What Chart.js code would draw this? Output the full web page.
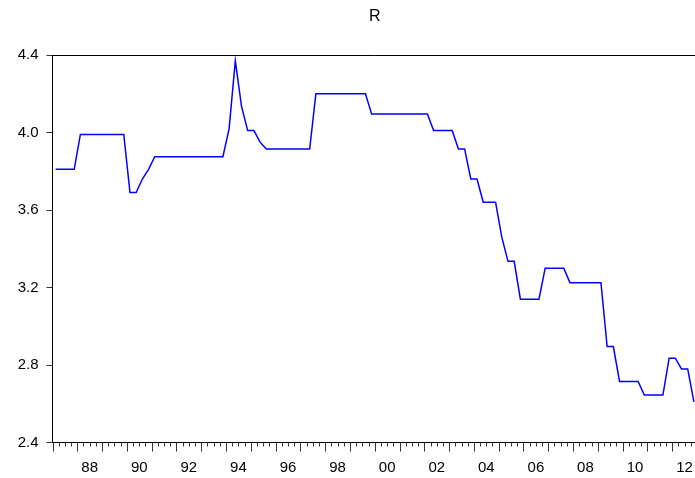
<!DOCTYPE html>
<html>
<head>
<meta charset="utf-8">
<script src="https://cdn.jsdelivr.net/npm/chart.js@4"></script>
<style>
  html, body { margin: 0; padding: 0; background: #fff; overflow: hidden; }
  #wrap { width: 700px; height: 478px; }
</style>
</head>
<body>
<div id="wrap"><canvas id="chart" width="700" height="478"></canvas></div>
<script>
// Quarterly series R, 1987Q1 - 2012Q4
const startYear = 1987;
const endYear = 2013;
const rValues = [
    3.81, 3.81, 3.81, 3.81,   // 1987
    3.99, 3.99, 3.99, 3.99,   // 1988
    3.99, 3.99, 3.99, 3.99,   // 1989
    3.69, 3.69, 3.76, 3.81,   // 1990
    3.875, 3.875, 3.875, 3.875, // 1991
    3.875, 3.875, 3.875, 3.875, // 1992
    3.875, 3.875, 3.875, 3.875, // 1993
    4.02, 4.37, 4.135, 4.01,  // 1994
    4.01, 3.95, 3.915, 3.915, // 1995
    3.915, 3.915, 3.915, 3.915, // 1996
    3.915, 3.915, 4.20, 4.20, // 1997
    4.20, 4.20, 4.20, 4.20,   // 1998
    4.20, 4.20, 4.20, 4.095,  // 1999
    4.095, 4.095, 4.095, 4.095, // 2000
    4.095, 4.095, 4.095, 4.095, // 2001
    4.095, 4.01, 4.01, 4.01,  // 2002
    4.01, 3.915, 3.915, 3.76, // 2003
    3.76, 3.64, 3.64, 3.64,   // 2004
    3.46, 3.335, 3.335, 3.14, // 2005
    3.14, 3.14, 3.14, 3.30,   // 2006
    3.30, 3.30, 3.30, 3.225,  // 2007
    3.225, 3.225, 3.225, 3.225, // 2008
    3.225, 2.895, 2.895, 2.715, // 2009
    2.715, 2.715, 2.715, 2.645, // 2010
    2.645, 2.645, 2.645, 2.835, // 2011
    2.835, 2.78, 2.78, 2.61   // 2012
];
const quarters = rValues.map((_, i) => `${startYear + Math.floor(i / 4)}Q${i % 4 + 1}`);
const yTicks = [2.4, 2.8, 3.2, 3.6, 4.0, 4.4];
const xLabelYears = [1988, 1990, 1992, 1994, 1996, 1998, 2000, 2002, 2004, 2006, 2008, 2010, 2012];

const fontFamily = '"Liberation Sans", Arial, sans-serif';

// Rahmen oben/rechts und Quartals-Ticks an der x-Achse
const framePlugin = {
    id: 'frame',
    afterDraw(chart) {
        const { ctx, chartArea: a, scales } = chart;
        ctx.save();
        ctx.strokeStyle = '#000';
        ctx.lineWidth = 1;
        ctx.beginPath();
        ctx.moveTo(a.left, a.top + 0.5);
        ctx.lineTo(a.right, a.top + 0.5);
        ctx.lineTo(a.right, a.bottom);
        ctx.stroke();
        ctx.strokeStyle = '#333';
        ctx.beginPath();
        for (let q = startYear * 4; q <= endYear * 4; q++) {
            const px = Math.round(scales.x.getPixelForValue(q / 4)) + 0.5;
            const len = q % 4 === 0 ? 9 : 4;
            ctx.moveTo(px, a.bottom);
            ctx.lineTo(px, a.bottom + len);
        }
        ctx.stroke();
        ctx.restore();
    }
};

new Chart(document.getElementById('chart'), {
    type: 'line',
    data: {
        labels: quarters,
        datasets: [{
            label: 'R',
            data: rValues.map((v, i) => ({ x: startYear + (i + 0.5) / 4, y: v })),
            borderColor: '#0000ff',
            borderWidth: 1.5,
            pointRadius: 0,
            tension: 0,
            fill: false
        }]
    },
    options: {
        responsive: false,
        animation: false,
        layout: { padding: { left: 0, right: 3, top: 0, bottom: 0 } },
        plugins: {
            legend: { display: false },
            tooltip: { enabled: false },
            title: {
                display: true,
                text: 'R',
                fullSize: false,
                color: '#000',
                font: { family: fontFamily, size: 16, weight: 'normal' },
                padding: { top: 7, bottom: 28.8 }
            }
        },
        scales: {
            x: {
                type: 'linear',
                min: startYear,
                max: endYear,
                afterBuildTicks: scale => {
                    scale.ticks = xLabelYears.map(y => ({ value: y + 0.5 }));
                },
                afterFit: scale => {
                    scale.height = 35.5;
                    scale.paddingLeft = 0;
                    scale.paddingRight = 0;
                },
                ticks: {
                    autoSkip: false,
                    maxRotation: 0,
                    padding: 16,
                    color: '#000',
                    font: { family: fontFamily, size: 15 },
                    callback: v => String(Math.floor(v) % 100).padStart(2, '0')
                },
                grid: { drawOnChartArea: false, drawTicks: false },
                border: { display: true, color: '#000', width: 1 }
            },
            y: {
                min: 2.4,
                max: 4.4,
                afterBuildTicks: scale => {
                    scale.ticks = yTicks.map(v => ({ value: v }));
                },
                afterFit: scale => {
                    scale.width = 52.5;
                    scale.paddingTop = 0;
                    scale.paddingBottom = 0;
                },
                ticks: {
                    padding: 8,
                    color: '#000',
                    font: { family: fontFamily, size: 15 },
                    callback: v => v.toFixed(1)
                },
                grid: { drawOnChartArea: false, drawTicks: true, tickLength: 6, tickColor: '#333' },
                border: { display: true, color: '#000', width: 1 }
            }
        }
    },
    plugins: [framePlugin]
});
</script>
</body>
</html>
